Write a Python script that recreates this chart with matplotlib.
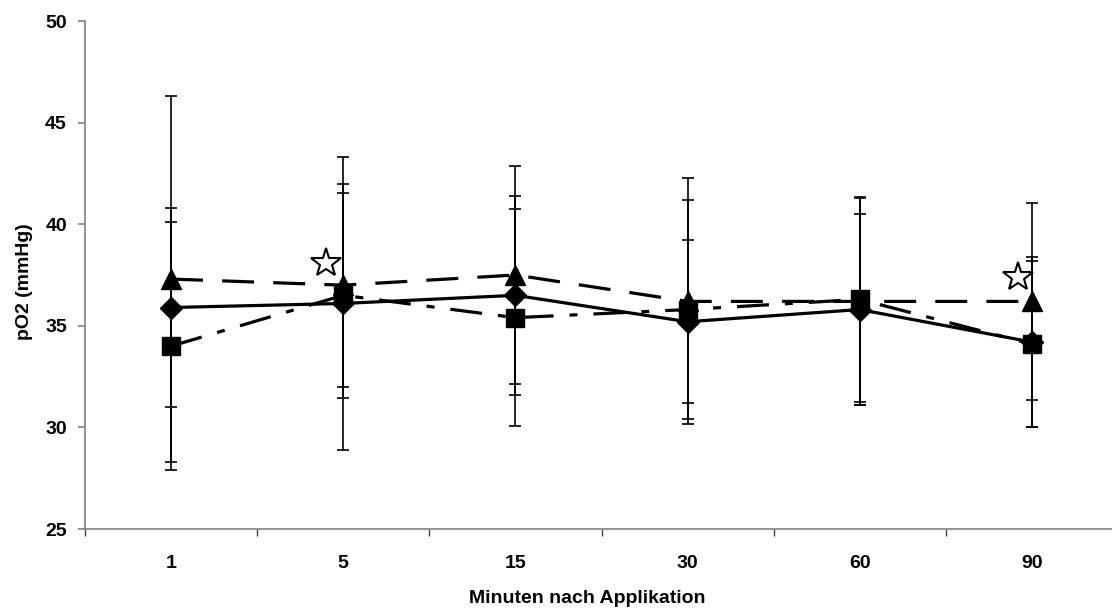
import numpy as np
import matplotlib.pyplot as plt

plt.rcParams['font.family'] = ['Liberation Sans', 'DejaVu Sans']
plt.rcParams['font.weight'] = 'bold'

minuten = ['1', '5', '15', '30', '60', '90']

# Raute, durchgezogen
raute = [35.9, 36.1, 36.5, 35.2, 35.8, 34.2]
raute_sd = [4.9, 7.2, 4.9, 4.0, 4.7, 4.2]
# Dreieck, gestrichelt
dreieck = [37.3, 37.0, 37.5, 36.2, 36.2, 36.2]
dreieck_sd = [9.0, 5.0, 5.35, 6.05, 5.1, 4.85]
# Quadrat, strich-punkt
quadrat = [34.0, 36.5, 35.4, 35.8, 36.3, 34.1]
quadrat_sd = [6.1, 5.05, 5.35, 5.4, 5.05, 4.1]

# Signifikanz-Sterne
stern_x = [0.9, 4.92]
stern_y = [38.1, 37.4]

x = np.arange(len(minuten))

fig = plt.figure(figsize=(11.12, 6.12), dpi=100)
ax = fig.add_axes([85/1112, 1-529/612, (1118-85)/1112, (529-21)/612])

ax.errorbar(x, raute, yerr=raute_sd, color='black', lw=2.3, marker='D', ms=11,
            ecolor='black', elinewidth=1.2, capsize=4, capthick=1.2, zorder=3)
ax.errorbar(x, dreieck, yerr=dreieck_sd, color='black', lw=2.3, marker='^', ms=14,
            dashes=(10, 6), ecolor='black', elinewidth=1.2, capsize=4, capthick=1.2, zorder=4)
ax.errorbar(x, quadrat, yerr=quadrat_sd, color='black', lw=2.3, marker='s', ms=13,
            dashes=(10, 5, 2.5, 5), ecolor='black', elinewidth=1.2, capsize=4, capthick=1.2, zorder=5)
ax.plot(stern_x, stern_y, ls='none', marker='*', ms=22, mfc='white', mec='black', mew=1.5, zorder=6)

ax.set_xlim(-0.5, 5.5)
ax.set_ylim(25, 50)
ax.set_yticks(np.arange(25, 51, 5))
ax.set_xticks(x)
ax.set_xticklabels(minuten)
ax.set_xticks(np.arange(-0.5, 6, 1), minor=True)

for s in ['top', 'right']:
    ax.spines[s].set_visible(False)
for s in ['left', 'bottom']:
    ax.spines[s].set_color('#808080')
    ax.spines[s].set_linewidth(1.2)

ax.tick_params(axis='y', direction='out', length=5, width=1.2, color='#808080',
               labelsize=14, pad=8)
ax.tick_params(axis='x', which='major', length=0, labelsize=14, pad=19)
ax.tick_params(axis='x', which='minor', direction='out', length=5, width=1.0, color='#404040')
for lab in ax.get_xticklabels() + ax.get_yticklabels():
    lab.set_fontweight('bold')

ax.set_xlabel('Minuten nach Applikation', fontsize=14, fontweight='bold')
ax.set_ylabel('pO2 (mmHg)', fontsize=14, fontweight='bold')
ax.xaxis.set_label_coords(0.486, -0.12)
ax.yaxis.set_label_coords(-0.05, 0.486)

fig.savefig('out.png', dpi=100)
